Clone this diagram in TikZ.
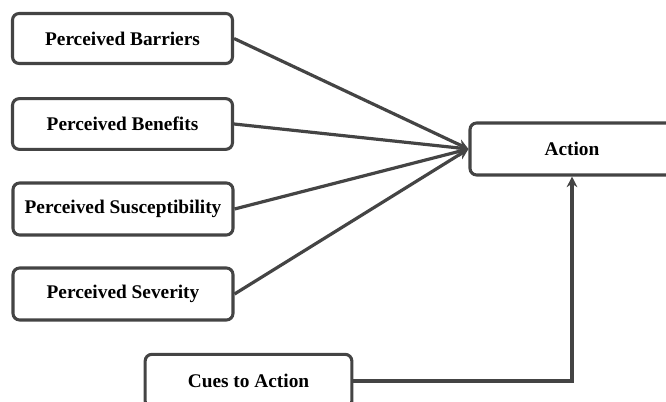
\documentclass[tikz,border=0pt]{standalone}
\usepackage{fontspec}
\setmainfont{Liberation Serif}
\usetikzlibrary{arrows.meta}
\definecolor{ln}{HTML}{444444}
\begin{document}
\begin{tikzpicture}[x=0.75pt,y=-0.75pt,
  box/.style={draw=ln,line width=2.3pt,rounded corners=5pt,fill=white,inner sep=0pt,
    font=\fontsize{14.5pt}{16pt}\selectfont\bfseries,text=black},
  conn/.style={draw=ln,line width=2.4pt,-{Stealth[length=8pt,width=8pt]}}]
\useasboundingbox (0,0) rectangle (666,402);
\node[box,minimum width=165pt,minimum height=37.5pt] (bar) at (122.5,38.5) {Perceived Barriers};
\node[box,minimum width=165pt,minimum height=38pt] (ben) at (122.5,124) {Perceived Benefits};
\node[box,minimum width=165pt,minimum height=39pt] (sus) at (123,209) {Perceived Susceptibility};
\node[box,minimum width=165pt,minimum height=39pt] (sev) at (123,294) {Perceived Severity};
\node[box,minimum width=153pt,minimum height=39pt] (act) at (572,149) {Action};
\node[box,minimum width=155pt,minimum height=40pt] (cue) at (248.5,381) {Cues to Action};
\draw[conn] (bar.east) -- (act.west);
\draw[conn] (ben.east) -- (act.west);
\draw[conn] (sus.east) -- (act.west);
\draw[conn] (sev.east) -- (act.west);
\draw[conn] (cue.east) -| (act.south);
\end{tikzpicture}
\end{document}
